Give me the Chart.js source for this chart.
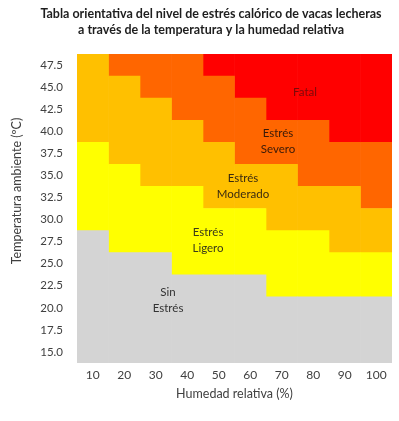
<!DOCTYPE html>
<html lang="es">
<head>
<meta charset="utf-8">
<title>Estrés calórico vacas lecheras</title>
<script src="https://cdn.jsdelivr.net/npm/chart.js@4.4.1/dist/chart.umd.min.js"></script>
<style>
  html, body { margin: 0; padding: 0; background: #fff; }
</style>
</head>
<body>
<canvas id="stressChart" width="399" height="421"></canvas>
<script>
// columnas: humedad relativa (%)
const humidity = [10, 20, 30, 40, 50, 60, 70, 80, 90, 100];
// filas: temperatura ambiente (ºC)
const temps = [15, 17.5, 20, 22.5, 25, 27.5, 30, 32.5, 35, 37.5, 40, 42.5, 45, 47.5];

// temperatura a la que empieza cada nivel en cada columna (null = no aparece)
const ligeroFrom   = [30, 27.5, 27.5, 25, 25, 25, 22.5, 22.5, 22.5, 22.5];
const moderadoFrom = [40, 37.5, 35, 35, 32.5, 32.5, 30, 30, 27.5, 27.5];
const severoFrom   = [null, 47.5, 45, 42.5, 40, 37.5, 37.5, 35, 35, 32.5];
const fatalFrom    = [null, null, null, null, 47.5, 45, 42.5, 42.5, 40, 40];

const levelNames  = ['Sin Estrés', 'Estrés Ligero', 'Estrés Moderado', 'Estrés Severo', 'Fatal'];
const levelColors = ['#d4d4d4', '#ffff00', '#ffc000', '#ff6600', '#ff0000'];

// textos dentro de las zonas y donde van (indice de columna, temperatura)
const zoneText = [['Sin', 'Estrés'], ['Estrés', 'Ligero'], ['Estrés', 'Moderado'], ['Estrés', 'Severo'], ['Fatal']];
const zoneAt = [[2.39, 20.9], [3.66, 27.6], [4.77, 33.8], [5.88, 38.9], [6.74, 44.4]];
const zoneTextColors = ['#333333', '#3a3a1a', '#3a2a10', '#3a1a08', '#7a0a0a'];

const step = 2.5;
const half = step / 2;
const levelFrom = [humidity.map(() => temps[0]), ligeroFrom, moderadoFrom, severoFrom, fatalFrom];

function levelRanges(level) {
    return humidity.map(function (h, c) {
        const lo = levelFrom[level][c];
        if (lo == null) return null;
        let hi = temps[temps.length - 1] + step;
        for (let k = level + 1; k < levelFrom.length; k++) {
            if (levelFrom[k][c] != null) { hi = levelFrom[k][c]; break; }
        }
        return [lo - half, hi - half];
    });
}

const TXT = '#404040';

const overlayText = {
    id: 'overlayText',
    afterDraw(chart) {
        const ctx = chart.ctx;
        const xs = chart.scales.x, ys = chart.scales.y;
        ctx.save();
        ctx.textAlign = 'center';
        ctx.textBaseline = 'middle';

        // titulo
        ctx.fillStyle = '#1e1e1e';
        ctx.font = 'bold 12.5px Lato';
        ctx.fillText('Tabla orientativa del nivel de estrés calórico de vacas lecheras', 211, 14);
        ctx.fillText('a través de la temperatura y la humedad relativa', 211, 30);

        // titulo eje y
        ctx.save();
        ctx.translate(17, 191);
        ctx.rotate(-Math.PI / 2);
        ctx.fillStyle = TXT;
        ctx.font = '12.5px Lato';
        ctx.fillText('Temperatura ambiente (ºC)', 0, 0);
        ctx.restore();

        // etiquetas de zona
        ctx.font = '11.5px Lato';
        zoneText.forEach(function (lines, i) {
            const px = xs.getPixelForValue(zoneAt[i][0]);
            const py = ys.getPixelForValue(zoneAt[i][1]);
            ctx.fillStyle = zoneTextColors[i];
            lines.forEach(function (t, j) {
                ctx.fillText(t, px, py + (j - (lines.length - 1) / 2) * 16);
            });
        });
        ctx.restore();
    }
};

const ctx = document.getElementById('stressChart').getContext('2d');

new Chart(ctx, {
    type: 'bar',
    data: {
        labels: humidity,
        datasets: levelNames.map(function (name, i) {
            return {
                label: name,
                data: levelRanges(i),
                backgroundColor: levelColors[i],
                borderWidth: 0,
                barPercentage: 1,
                categoryPercentage: 1,
                grouped: false
            };
        })
    },
    options: {
        responsive: false,
        animation: false,
        layout: { padding: { top: 54, right: 7, left: 0, bottom: 0 } },
        plugins: {
            legend: { display: false },
            title: { display: false }
        },
        scales: {
            x: {
                grid: { display: false, drawTicks: false },
                border: { display: false },
                ticks: { color: TXT, font: { family: 'Lato', size: 12 }, padding: 5 },
                title: {
                    display: true,
                    text: 'Humedad relativa (%)',
                    color: TXT,
                    font: { family: 'Lato', size: 12.5 },
                    padding: { top: 0, bottom: 20 }
                },
                afterFit(scale) { scale.height = 58; }
            },
            y: {
                min: temps[0] - half,
                max: temps[temps.length - 1] + half,
                grid: { display: false, drawTicks: false },
                border: { display: false },
                afterBuildTicks(scale) {
                    scale.ticks = temps.map(v => ({ value: v }));
                },
                ticks: {
                    color: TXT,
                    font: { family: 'Lato', size: 11.5 },
                    padding: 14,
                    callback: v => Number(v).toFixed(1)
                },
                afterFit(scale) { scale.width = 77; }
            }
        }
    },
    plugins: [overlayText]
});
</script>
</body>
</html>
